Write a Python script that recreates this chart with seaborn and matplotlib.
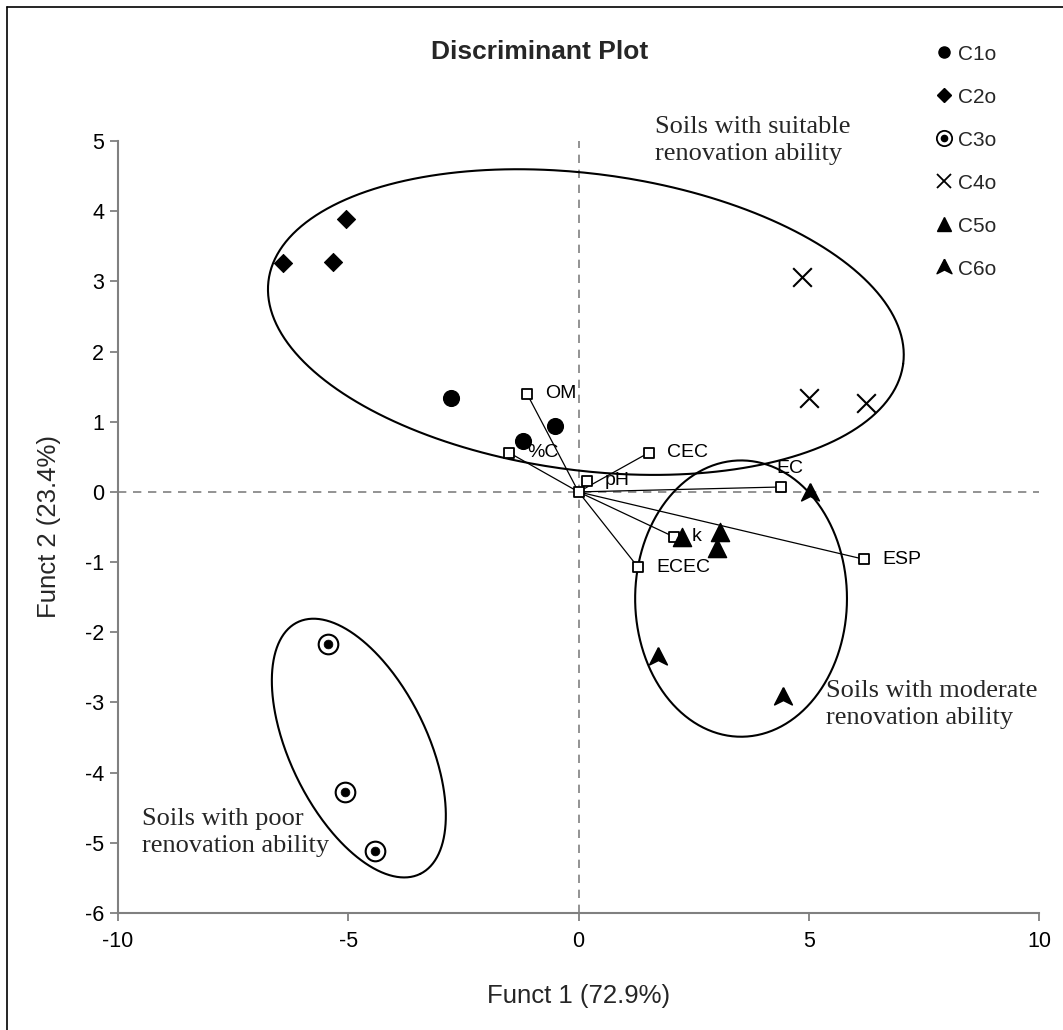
import numpy as np
import pandas as pd
import seaborn as sns
import matplotlib.pyplot as plt
from matplotlib.lines import Line2D
from matplotlib.legend_handler import HandlerTuple

sns.set_style("ticks")
plt.rcParams['font.family'] = ['Liberation Sans', 'DejaVu Sans']
plt.rcParams['axes.unicode_minus'] = False

# group scores (Funct 1, Funct 2)
c1_x = [-2.77, -0.51, -1.21]
c1_y = [1.34, 0.94, 0.73]
c2_x = [-6.41, -5.33, -5.05]
c2_y = [3.26, 3.28, 3.89]
c3_x = [-5.43, -5.07, -4.41]
c3_y = [-2.16, -4.27, -5.12]
c4_x = [4.85, 5.00, 6.24]
c4_y = [3.06, 1.34, 1.27]
c5_x = [2.25, 3.07, 3.00]
c5_y = [-0.64, -0.57, -0.80]
c6_x = [5.03, 1.73, 4.44]
c6_y = [-0.02, -2.35, -2.92]
group_names = ['C1o', 'C2o', 'C3o', 'C4o', 'C5o', 'C6o']

# variable loadings
var_names = ['OM', '%C', 'CEC', 'pH', 'EC', 'k', 'ECEC', 'ESP']
var_x = [-1.12, -1.51, 1.53, 0.18, 4.39, 2.07, 1.29, 6.20]
var_y = [1.40, 0.56, 0.56, 0.16, 0.07, -0.64, -1.07, -0.96]

# cluster ellipses: centre, semi-axes (x units), angle on screen
ell_cx = [0.16, 3.53, -4.77]
ell_cy = [2.42, -1.52, -3.65]
ell_a = [6.95, 2.30, 3.04]
ell_b = [3.22, 3.00, 1.49]
ell_ang = [-7.5, 0.0, -64.0]

notes = ['Soils with suitable\nrenovation ability',
         'Soils with moderate\nrenovation ability',
         'Soils with poor\nrenovation ability']
note_x = [1.66, 5.37, -9.48]
note_y = [5.36, -2.68, -4.50]

W, H = 1063, 1030
fig = plt.figure(figsize=(W / 100, H / 100), dpi=100)
ax = fig.add_axes([118 / W, 1 - 913 / H, 921 / W, 772 / H])
ax.set_xlim(-10, 10)
ax.set_ylim(-6, 5)

# y-units per x-unit for a round shape on screen
k = (921 / 20) / (772 / 11)

ax.axhline(0, color='#808080', ls=(0, (5, 4)), lw=1.2, zorder=0.5)
ax.axvline(0, color='#808080', ls=(0, (5, 4)), lw=1.2, zorder=0.5)

t = np.linspace(0, 2 * np.pi, 400)
for cx, cy, a, b, ang in zip(ell_cx, ell_cy, ell_a, ell_b, ell_ang):
    r = np.deg2rad(ang)
    ex = a * np.cos(t) * np.cos(r) - b * np.sin(t) * np.sin(r)
    ey = a * np.cos(t) * np.sin(r) + b * np.sin(t) * np.cos(r)
    ax.plot(cx + ex, cy + ey * k, color='black', lw=1.5, zorder=2)

# loading vectors
for x, y in zip(var_x, var_y):
    ax.plot([0, x], [0, y], color='black', lw=0.9, zorder=3)
sns.scatterplot(x=[0] + var_x, y=[0] + var_y, marker='s', s=60, color='white',
                edgecolor='black', linewidth=1.3, ax=ax, legend=False, zorder=4)
lab_off = {'EC': (-3, 13)}
for name, x, y in zip(var_names, var_x, var_y):
    dx, dy = lab_off.get(name, (13, 0))
    ax.annotate(name, (x, y), xytext=(dx, dy), textcoords='offset points',
                ha='left', va='center', fontsize=14, color='black', zorder=6)

arrow = [(0, 1), (0.9, -0.75), (0, -0.3), (-0.9, -0.75), (0, 1)]

df = pd.DataFrame({
    'x': c1_x + c2_x + c3_x + c4_x + c5_x + c6_x,
    'y': c1_y + c2_y + c3_y + c4_y + c5_y + c6_y,
    'group': [g for g in group_names for _ in range(3)],
})
g = lambda n: df[df['group'] == n]
sns.scatterplot(data=g('C1o'), x='x', y='y', marker='o', s=130, color='black',
                edgecolor='black', ax=ax, legend=False, zorder=5)
sns.scatterplot(data=g('C2o'), x='x', y='y', marker='D', s=85, color='black',
                edgecolor='black', ax=ax, legend=False, zorder=5)
sns.scatterplot(data=g('C3o'), x='x', y='y', marker='o', s=200, color='white',
                edgecolor='black', linewidth=1.5, ax=ax, legend=False, zorder=5)
sns.scatterplot(data=g('C3o'), x='x', y='y', marker='o', s=40, color='black',
                edgecolor='black', ax=ax, legend=False, zorder=6)
sns.scatterplot(data=g('C4o'), x='x', y='y', marker='x', s=180, color='black',
                linewidth=1.5, ax=ax, legend=False, zorder=5)
sns.scatterplot(data=g('C5o'), x='x', y='y', marker='^', s=170, color='black',
                edgecolor='black', ax=ax, legend=False, zorder=5)
sns.scatterplot(data=g('C6o'), x='x', y='y', marker=arrow, s=200, color='black',
                edgecolor='black', ax=ax, legend=False, zorder=5)

for txt, x, y in zip(notes, note_x, note_y):
    ax.text(x, y, txt, ha='left', va='top', fontsize=19, linespacing=1.3,
            family=['Liberation Serif', 'DejaVu Serif'], clip_on=False, zorder=6)

# axes styling
for s in ['top', 'right']:
    ax.spines[s].set_visible(False)
for s in ['left', 'bottom']:
    ax.spines[s].set_color('#808080')
    ax.spines[s].set_linewidth(1.5)
ax.set_xticks([-10, -5, 0, 5, 10])
ax.set_yticks(range(-6, 6))
ax.tick_params(axis='both', color='#808080', length=6, width=1.3,
               labelsize=15.5, labelcolor='black')
ax.tick_params(axis='x', pad=7)
ax.tick_params(axis='y', pad=4)
ax.set_xlabel('Funct 1 (72.9%)', fontsize=18.5, labelpad=23)
ax.set_ylabel('Funct 2 (23.4%)', fontsize=18.5, labelpad=17)

fig.text(540 / W, 1 - 52 / H, 'Discriminant Plot', ha='center', va='center',
         fontsize=19, fontweight='bold')

handles = [
    Line2D([], [], ls='', marker='o', ms=8, color='black'),
    Line2D([], [], ls='', marker='D', ms=7, color='black'),
    (Line2D([], [], ls='', marker='o', ms=11, mfc='white', mec='black', mew=1.3),
     Line2D([], [], ls='', marker='o', ms=4.5, color='black')),
    Line2D([], [], ls='', marker='x', ms=10, mew=1.3, color='black'),
    Line2D([], [], ls='', marker='^', ms=10, color='black'),
    Line2D([], [], ls='', marker=arrow, ms=12, color='black'),
]
fig.legend(handles, group_names, loc='upper left',
           bbox_to_anchor=(916 / W, 1 - 26 / H), frameon=False, fontsize=15,
           handlelength=0.9, handletextpad=0.2, labelspacing=1.15,
           handler_map={tuple: HandlerTuple(ndivide=1, pad=0)})

# outer frame (left and top only visible)
fig.add_artist(Line2D([7 / W, 7 / W], [0, 1 - 7 / H], transform=fig.transFigure,
                      color='black', lw=1.2))
fig.add_artist(Line2D([7 / W, 1], [1 - 7 / H, 1 - 7 / H], transform=fig.transFigure,
                      color='black', lw=1.2))

fig.savefig('out.png', dpi=100)
